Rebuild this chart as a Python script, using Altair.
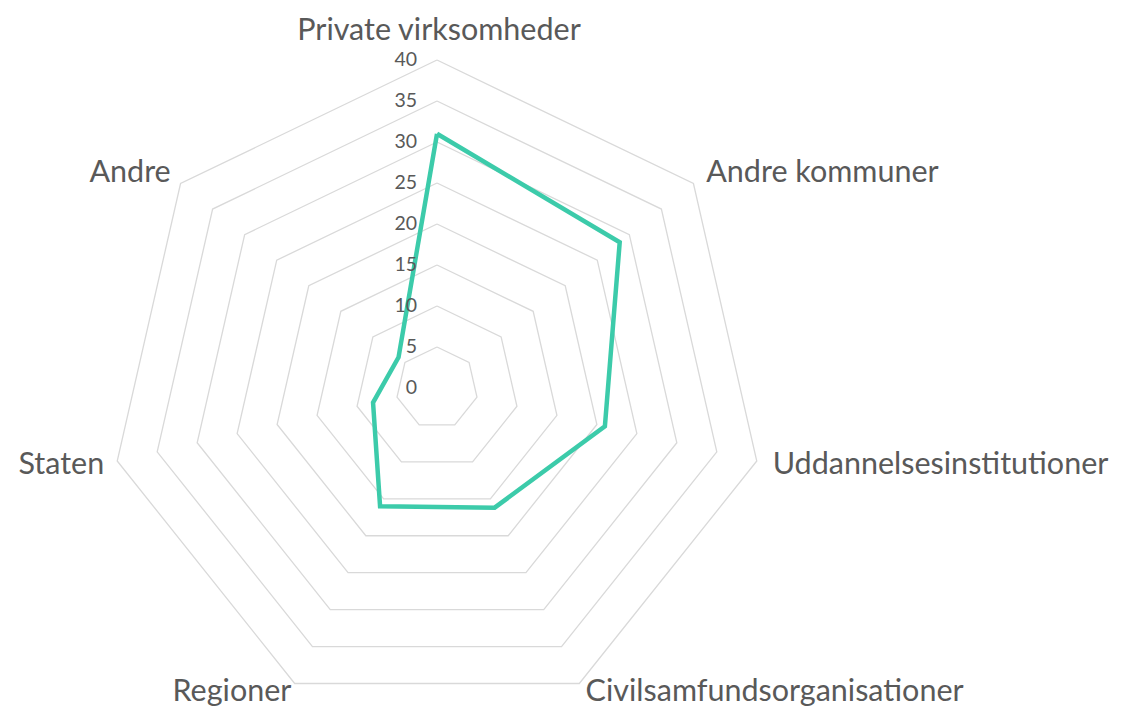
import math
import altair as alt
import pandas as pd

categories = ["Private virksomheder", "Andre kommuner", "Uddannelsesinstitutioner",
              "Civilsamfundsorganisationer", "Regioner", "Staten", "Andre"]
values = [31, 28.5, 21, 16.2, 16, 8, 6]
grid_levels = [5, 10, 15, 20, 25, 30, 35, 40]
tick_labels = [0, 5, 10, 15, 20, 25, 30, 35, 40]

N = len(categories)
W, H = 1119, 704
PX = 8.2          # pixels per unit
CX, CY = 429, 380  # centre in plot coordinates

FONT = "Lato"
TEXT = "#595959"
GRID = "#D9D9D9"
LINE = "#3CCBAA"

series = pd.DataFrame({
    "order": list(range(N + 1)),
    "idx": [i % N for i in range(N + 1)],
    "cat": [categories[i % N] for i in range(N + 1)],
    "value": [values[i % N] for i in range(N + 1)],
})
grid = pd.DataFrame([
    {"level": lv, "order": i, "idx": i % N} for lv in grid_levels for i in range(N + 1)
])
ticks = pd.DataFrame({"level": tick_labels, "label": [str(t) for t in tick_labels]})
cats = pd.DataFrame({"idx": list(range(N)), "cat": categories})

xs = alt.Scale(domain=[-CX / PX, (W - CX) / PX], nice=False, zero=False)
ys = alt.Scale(domain=[-(H - CY) / PX, CY / PX], nice=False, zero=False)
ang = f"2*PI*datum.idx/{N}"

grid_layer = alt.Chart(grid).transform_calculate(
    gx=f"datum.level*sin({ang})", gy=f"datum.level*cos({ang})"
).mark_line(color=GRID, strokeWidth=1.3).encode(
    x=alt.X("gx:Q", scale=xs, axis=None),
    y=alt.Y("gy:Q", scale=ys, axis=None),
    detail="level:N",
    order="order:Q",
)

line_layer = alt.Chart(series).transform_calculate(
    sx=f"datum.value*sin({ang})", sy=f"datum.value*cos({ang})"
).mark_line(color=LINE, strokeWidth=4.5, strokeJoin="miter").encode(
    x=alt.X("sx:Q", scale=xs, axis=None),
    y=alt.Y("sy:Q", scale=ys, axis=None),
    order="order:Q",
)

tick_layer = alt.Chart(ticks).transform_calculate(tx="0").mark_text(
    align="right", baseline="middle", dx=-20, font=FONT, fontSize=19.5, color=TEXT
).encode(
    x=alt.X("tx:Q", scale=xs, axis=None),
    y=alt.Y("level:Q", scale=ys, axis=None),
    text="label:N",
)

def cat_layer(filt, align, radius, dx):
    return alt.Chart(cats).transform_filter(filt).transform_calculate(
        lx=f"{radius}*sin({ang})", ly=f"{radius}*cos({ang})"
    ).mark_text(
        align=align, baseline="middle", dx=dx, font=FONT, fontSize=30.5, color=TEXT
    ).encode(
        x=alt.X("lx:Q", scale=xs, axis=None),
        y=alt.Y("ly:Q", scale=ys, axis=None),
        text="cat:N",
    )

top = cat_layer("datum.idx == 0", "center", 43.5, 2)
right = cat_layer("datum.idx >= 1 && datum.idx <= 2", "left", 42, 0)
bottom_r = cat_layer("datum.idx == 3", "left", 41.2, 2)
bottom_l = cat_layer("datum.idx == 4", "right", 41.2, 1)
left = cat_layer("datum.idx >= 5", "right", 42, 3)

chart = alt.layer(grid_layer, line_layer, tick_layer, top, right, bottom_r, bottom_l, left).properties(
    width=W, height=H, autosize=alt.AutoSizeParams(type="none"), padding=0
).configure_view(stroke=None)

chart.save("out.html", embed_options={"renderer": "svg", "actions": False})
